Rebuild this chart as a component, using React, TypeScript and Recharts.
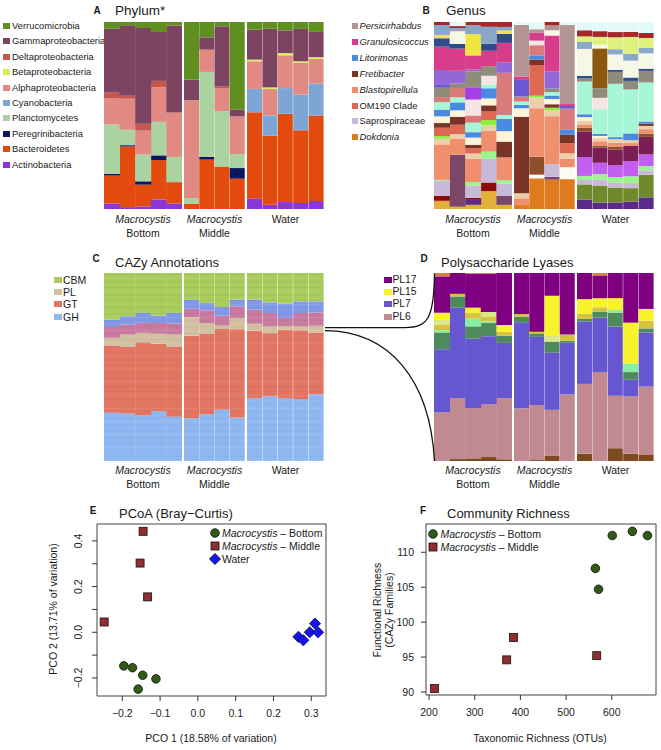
import { BarChart, Bar, XAxis, YAxis, ScatterChart, Scatter, ReferenceArea } from "recharts";

const FONT = '"Liberation Sans", Arial, Helvetica, sans-serif';

// ---------- samples / groups ----------
const samples = ["B1", "B2", "B3", "B4", "B5", "M1", "M2", "M3", "M4", "W1", "W2", "W3", "W4", "W5"];
const groupNames = ["Macrocystis", "Macrocystis", "Water"];
const groupSubs = ["Bottom", "Middle", ""];
const groupRanges = [[0, 5], [5, 9], [9, 14]];

// ---------- A: phylum (% per sample) ----------
const phylumNames = ["Verrucomicrobia", "Gammaproteobacteria", "Deltaproteobacteria", "Betaproteobacteria", "Alphaproteobacteria", "Cyanobacteria", "Planctomycetes", "Peregrinibacteria", "Bacteroidetes", "Actinobacteria"];
const phylumColors = ["#5f8f1f", "#7c4461", "#c6574f", "#d6ef5a", "#e18a84", "#7ea6d4", "#abd3a2", "#0b1662", "#e24b0d", "#8a36d8"];
const verrucomicrobia = [3.6, 1.8, 3.2, 5.3, 1.8, 30.8, 8.2, 2.3, 46.9, 4.1, 3.6, 4.5, 3.7, 5.3];
const gammaproteobacteria = [34, 37.6, 51.2, 26, 46.3, 11, 6.6, 32.4, 3.6, 16, 31.4, 12.1, 17.3, 13.5];
const deltaproteobacteria = [3.4, 1.6, 3.7, 3.4, 0, 0, 0, 1, 0, 0, 0, 0, 0, 0];
const betaproteobacteria = [0, 0, 0, 0, 0, 0, 0, 0, 0, 0.9, 0.9, 1.2, 0.9, 0.9];
const alphaproteobacteria = [13.9, 16.6, 12.8, 18.4, 23.7, 52.2, 11.9, 12.1, 20.1, 14.8, 14.1, 17.5, 16.9, 13.2];
const cyanobacteria = [0, 0, 0, 0, 0, 0, 0, 0, 0, 12.5, 10.9, 13.7, 19.1, 17.1];
const planctomycetes = [26.4, 8.2, 14.3, 17.8, 13.4, 3, 45.5, 29.8, 7.5, 0, 0, 0, 0, 0];
const peregrinibacteria = [1, 0.7, 1.8, 2.5, 0, 0, 1.4, 0, 5.7, 0, 0, 0, 0, 0];
const bacteroidetes = [15, 32.4, 11.6, 21, 11.4, 2.9, 26.4, 22.8, 16.2, 46.2, 36.9, 47.2, 38.9, 45.6];
const actinobacteria = [2.9, 1, 1.4, 5, 2.9, 0, 0, 0, 0, 5.5, 2.3, 3.7, 3.2, 4.3];
const phylumSeries = [verrucomicrobia, gammaproteobacteria, deltaproteobacteria, betaproteobacteria, alphaproteobacteria, cyanobacteria, planctomycetes, peregrinibacteria, bacteroidetes, actinobacteria];

// ---------- B: genus (% per sample), stack order bottom -> top ----------
const genusNames = ["gold", "purpleDeep", "olive", "Dokdonia", "snow", "darkRed", "mauveDark", "Saprospiraceae", "lightGreen", "orchid", "burgundy", "brownMid", "Blastopirellula", "tan", "brightGreen", "OM190 Clade", "Fretibacter", "cream", "Litorimonas", "mint", "rose", "mistyRose", "brightViolet", "grey", "oliveBrown", "violetBlue", "violet", "Granulosicoccus", "navy", "yellow", "ivory", "blueGrey", "Persicirhabdus", "lime", "redTop", "paleCyan"];
const genusColors = ["#e1b13c", "#5c2a88", "#6f8a2c", "#de7b1e", "#fbfbf0", "#8e0b0b", "#7b4767", "#c8b9d9", "#9af58c", "#c35ff0", "#7a1e55", "#8e4f2b", "#ef8f6e", "#ead0aa", "#8af23a", "#dc6a52", "#7a3327", "#fdf3d9", "#4b8ae2", "#a8f6d8", "#d97b7b", "#f6e4e4", "#a43ee6", "#8e8c7a", "#8b5a10", "#6a58d2", "#9467d6", "#d73d8b", "#2e4b8c", "#f1e542", "#f7f7e6", "#88a7c9", "#b39593", "#dcf27c", "#a6262b", "#e4fafa"];
const gGold = [3.9, 1.2, 2.1, 9.3, 2.1, 0, 0, 0, 0, 0, 0, 0, 0, 0];
const gPurpleDeep = [0, 0, 2.5, 0, 0, 0, 0, 0, 0, 4.8, 3, 3.4, 3.9, 5.3];
const gOlive = [0, 0, 0, 0, 0, 0, 0, 0, 0, 8, 8, 7.7, 7.1, 10.3];
const gDokdonia = [0.5, 0, 0, 0, 0, 2.1, 15.2, 15.2, 15.5, 0, 0, 0, 0, 0];
const gSnow = [0, 0, 0, 0, 0, 0, 1.8, 0, 6.2, 0, 0, 0, 0, 0];
const gDarkRed = [2.7, 0, 1, 4.5, 0, 0, 0, 0, 0, 0, 0, 0, 0, 0];
const gMauveDark = [0, 29.4, 0, 0, 4.5, 0, 0, 1.5, 0, 0, 0, 0, 0, 0];
const gSaprospiraceae = [8, 0, 6.2, 12.5, 6.2, 0, 0, 6.5, 0, 2.3, 2.7, 2.7, 2.7, 2];
const gLightGreen = [0.5, 0, 1.8, 3.6, 1.8, 0, 0, 0, 0, 2.1, 2.7, 2.7, 3.6, 2];
const gOrchid = [0, 0, 0, 0, 0, 0, 0, 0, 0, 9.8, 5.3, 6.2, 8, 5.3];
const gBurgundy = [0, 0, 0, 0, 0, 0, 0, 0, 0, 13.4, 7.1, 8, 8, 8];
const gBrownMid = [0, 0, 0, 0, 0, 0, 8.9, 0, 0, 1.8, 1, 1.5, 0, 1.5];
const gBlastopirellula = [19, 8.9, 11.6, 10.7, 11.6, 3.6, 24, 25, 4.5, 1.8, 2, 2, 1.5, 2];
const gTan = [3, 2.7, 2.7, 3, 0, 2.7, 5.3, 3, 2.7, 2, 1.5, 2, 1.5, 1.5];
const gBrightGreen = [1.4, 0, 0, 2.7, 0, 0, 0.9, 1.4, 0, 0, 0, 0, 0, 0];
const gOM190 = [4.5, 5.3, 2.6, 4.5, 0, 0, 15.2, 0, 5.3, 0, 0, 0, 0, 0];
const gFretibacter = [2.5, 4.5, 1.8, 3.2, 8, 41, 2.7, 1.8, 4.5, 0, 0, 0, 0, 1];
const gCream = [3.6, 3.6, 3.6, 3.6, 5.3, 4.5, 0, 2.7, 0, 1.8, 1, 0, 0, 0];
const gLitorimonas = [3.6, 4.5, 2.7, 5.3, 6.2, 1.8, 2.1, 1.8, 2.7, 1.5, 1, 1, 3.6, 1];
const gMint = [4, 2.8, 4.8, 2, 2, 1.8, 0, 1.8, 0, 17, 11.6, 27.6, 23.2, 17.8];
const gRose = [2.7, 5.3, 3.6, 0, 21.4, 2.7, 5, 0, 10.7, 0, 0, 0, 0, 0];
const gMistyRose = [0, 0, 8, 4.5, 0, 0, 2.3, 0, 0, 0, 5.3, 0, 0, 0];
const gBrightViolet = [0, 0, 6.2, 0, 0, 0, 0, 0, 0, 0, 0, 0, 0, 0];
const gGrey = [5, 2.5, 8, 5, 0, 0, 0, 1.8, 0, 1.8, 4.5, 6.2, 4.5, 5.3];
const gOliveBrown = [0, 0, 0, 0, 0, 0, 0, 0, 0, 0, 18.7, 0, 0, 0];
const gVioletBlue = [1.5, 0, 0, 0, 0, 8.9, 0, 0, 1.4, 0, 0, 0, 0, 0];
const gViolet = [8, 7.2, 0.9, 0, 5.4, 0, 0, 8.9, 0, 0, 0, 0, 0, 0];
const gGranulosicoccus = [12.5, 12.5, 7.1, 8, 9.8, 1.8, 4, 18.7, 1, 0, 0, 0, 0, 0];
const gNavy = [4.5, 2.7, 0, 3.6, 4.5, 0, 0, 0, 0, 1.2, 0, 1, 1.8, 1];
const gYellow = [1.8, 0, 10.7, 0, 1.8, 0, 0, 0, 0, 0, 0, 0, 0, 0];
const gIvory = [0, 7.1, 0, 0, 0, 0, 0, 2.7, 0, 14, 1.8, 8, 8.9, 7];
const gBlueGrey = [5.3, 1.8, 4.5, 8.9, 1.8, 0, 0, 0, 0, 3.6, 0, 2.7, 3.6, 2.5];
const gPersicirhabdus = [0, 0, 0, 0, 0, 27.6, 1.6, 2.5, 41, 0, 0, 0, 0, 0];
const gLime = [0, 0, 0, 0, 0, 0, 0, 0, 0, 2.9, 3.6, 6.2, 8.9, 4.5];
const gRedTop = [1.6, 1.1, 1.6, 2.5, 2.5, 0, 0, 1.8, 0, 3.2, 2.7, 2.7, 2.7, 2.3];
const gPaleCyan = [0, 2.3, 0, 0, 0, 1.6, 3.6, 0, 1.6, 4.3, 4.3, 5.2, 5.2, 5];
const genusSeries = [gGold, gPurpleDeep, gOlive, gDokdonia, gSnow, gDarkRed, gMauveDark, gSaprospiraceae, gLightGreen, gOrchid, gBurgundy, gBrownMid, gBlastopirellula, gTan, gBrightGreen, gOM190, gFretibacter, gCream, gLitorimonas, gMint, gRose, gMistyRose, gBrightViolet, gGrey, gOliveBrown, gVioletBlue, gViolet, gGranulosicoccus, gNavy, gYellow, gIvory, gBlueGrey, gPersicirhabdus, gLime, gRedTop, gPaleCyan];
const genusLegend = ["Persicirhabdus", "Granulosicoccus", "Litorimonas", "Fretibacter", "Blastopirellula", "OM190 Clade", "Saprospiraceae", "Dokdonia"];
const genusLegendItalic = [true, true, true, true, true, false, false, true];

// ---------- C: CAZy classes, stack order bottom -> top ----------
const cazyNames = ["GH", "GT", "PL", "CE", "AA", "CBM"];
const cazyColors = ["#8fb8f2", "#e27662", "#d2c0a0", "#c97aa0", "#8199e8", "#a9cc5c"];
const cazyGH = [25.7, 25.3, 24.2, 26.5, 23.5, 22.7, 24.9, 27.2, 23.1, 33.4, 34.3, 33.4, 32.9, 35.5];
const cazyGT = [35.8, 35.4, 38.9, 35.9, 37.2, 43.9, 42.8, 43, 47.1, 35.9, 33.7, 36.4, 36.6, 32.9];
const cazyPL = [4.1, 6.5, 5, 5.3, 6.5, 9.9, 5.7, 1.8, 5.9, 3.7, 3.6, 1.8, 2.1, 3.6];
const cazyCE = [5.8, 5.3, 5.3, 5.7, 5.8, 4.4, 6.7, 5.3, 6.2, 7.5, 7.1, 4.4, 7.1, 7.1];
const cazyAA = [3.9, 4.4, 5.3, 3.9, 5.7, 4.8, 3.9, 4.6, 3.6, 5.3, 5.7, 7.6, 6.2, 5.9];
const cazyCBM = [24.8, 23, 21.2, 22.7, 21.2, 14.2, 16, 18.1, 14.2, 14.2, 15.6, 16.3, 15.1, 15.1];
const cazySeries = [cazyGH, cazyGT, cazyPL, cazyCE, cazyAA, cazyCBM];
const cazyLegend = ["CBM", "PL", "GT", "GH"];

// ---------- D: polysaccharide lyases, stack order bottom -> top ----------
const lyaseNames = ["PLbrown", "PL6", "PL7", "PLdkgreen", "PLltgreen", "PLolive", "PLltyellow", "PL15", "PL17", "PLorange"];
const lyaseColors = ["#7c4a1e", "#c08a90", "#6656d0", "#4e8a5c", "#86f0a0", "#d6c23e", "#d8e888", "#f8f22a", "#7e0080", "#d48040"];
const plBrown = [0.3, 1, 1.4, 2.1, 0.9, 0, 0.5, 2.7, 0, 3.9, 0, 6.8, 3.9, 3.2];
const pl6 = [25.5, 32.5, 26.9, 28.2, 32.7, 28, 29.3, 24.5, 35.4, 36.8, 47.3, 28, 30.4, 36.4];
const pl7 = [33.6, 48.2, 37, 36.3, 29.3, 45.7, 36.3, 30.4, 27.5, 32.9, 28.9, 36.8, 8.9, 28.8];
const plDkGreen = [8.9, 5.9, 6.6, 7, 3.8, 3, 1.8, 5.9, 1, 1.4, 3.2, 7.5, 4.1, 2.1];
const plLtGreen = [1.2, 0, 4.1, 0.9, 0, 0, 0, 0, 0, 0, 0, 1.4, 4.5, 0];
const plOlive = [3, 1.4, 3, 2.3, 2.1, 1.4, 0.9, 0, 3.4, 2.7, 2.3, 0, 0, 4.1];
const plLtYellow = [2.7, 0, 0, 2.7, 0, 0, 0, 3, 0, 0, 0, 0, 0, 0];
const pl15 = [3.6, 0, 2.9, 0, 3.6, 0, 0, 21.4, 0, 7.7, 4.8, 6.3, 21.8, 6.3];
const pl17 = [19.3, 11.1, 18.2, 20.5, 27.7, 21.8, 31.3, 12.1, 32.7, 13.8, 12.1, 13.4, 26.4, 19.1];
const plOrange = [1.8, 0, 0.3, 0.3, 0, 0, 0, 0, 0, 0, 1.3, 0, 0, 0];
const lyaseSeries = [plBrown, pl6, pl7, plDkGreen, plLtGreen, plOlive, plLtYellow, pl15, pl17, plOrange];
const lyaseLegend = ["PL17", "PL15", "PL7", "PL6"];

// ---------- E: PCoA ----------
const pcoBottomX = [-0.196, -0.173, -0.146, -0.111, -0.158];
const pcoBottomY = [-0.147, -0.155, -0.188, -0.204, -0.249];
const pcoMiddleX = [-0.145, -0.153, -0.133, -0.248];
const pcoMiddleY = [0.442, 0.303, 0.155, 0.045];
const pcoWaterX = [0.266, 0.279, 0.296, 0.31, 0.318];
const pcoWaterY = [-0.02, -0.035, 0.0, 0.038, 0.0];
const pcoXTicks = [-0.2, -0.1, 0, 0.1, 0.2, 0.3];
const pcoYTicks = [-0.2, -0.1, 0, 0.1, 0.2, 0.3, 0.4];

// ---------- F: richness ----------
const richBottomX = [601, 645, 678, 564, 571];
const richBottomY = [112.4, 113.0, 112.4, 107.7, 104.7];
const richMiddleX = [212, 370, 385, 567];
const richMiddleY = [90.5, 94.6, 97.8, 95.2];
const richXTicks = [200, 300, 400, 500, 600];
const richYTicks = [90, 95, 100, 105, 110];

// ---------- layout ----------
const GROUP_X = [104, 184, 247];
const GROUP_W = [78, 61, 77];

const pts = (xs: number[], ys: number[]) => xs.map((x, i) => ({ x, y: ys[i] }));

function Txt({ x, y, children, size = 10.5, anchor = "start", italic = false, bold = false, rotate = false }: any) {
  const tx = anchor === "middle" ? "-50%" : anchor === "end" ? "-100%" : "0";
  return (
    <div
      style={{
        position: "absolute",
        left: x,
        top: y,
        transform: rotate ? "translate(-50%,-50%) rotate(-90deg)" : `translate(${tx},-50%)`,
        fontSize: size,
        fontStyle: italic ? "italic" : "normal",
        fontWeight: bold ? "bold" : "normal",
        whiteSpace: "nowrap",
        lineHeight: 1,
        color: "#1a1a1a",
      }}
    >
      {children}
    </div>
  );
}

function Textures({ colors }: { colors: string[] }) {
  return (
    <defs>
      {colors.map((c) => (
        <pattern key={c} id={"tex" + c.slice(1)} patternUnits="userSpaceOnUse" width={8} height={13}>
          <rect width={8} height={13} fill={c} />
          <rect y={1} width={8} height={0.7} fill="rgba(0,0,0,0.06)" />
          <rect y={5} width={8} height={0.6} fill="rgba(255,255,255,0.12)" />
          <rect y={8.5} width={8} height={0.7} fill="rgba(0,0,0,0.05)" />
        </pattern>
      ))}
    </defs>
  );
}

function StackPanel({ left, top, height, names, series, colors, textured = false }: any) {
  const rows = samples.map((s, i) => {
    const r: any = { sample: s };
    names.forEach((n: string, k: number) => (r[n] = series[k][i]));
    return r;
  });
  return (
    <>
      {groupRanges.map(([a, b], gi) => (
        <div key={gi} style={{ position: "absolute", left: left + GROUP_X[gi], top, width: GROUP_W[gi], height }}>
          <BarChart
            width={GROUP_W[gi]}
            height={height}
            data={rows.slice(a, b)}
            margin={{ top: 0, right: 0, bottom: 0, left: 0 }}
            stackOffset="expand"
            barCategoryGap={0}
          >
            {textured && <Textures colors={colors} />}
            <XAxis dataKey="sample" hide />
            <YAxis hide />
            {names.map((n: string, k: number) => (
              <Bar key={n} dataKey={n} stackId="s" fill={textured ? `url(#tex${colors[k].slice(1)})` : colors[k]} isAnimationActive={false} />
            ))}
          </BarChart>
        </div>
      ))}
    </>
  );
}

function GroupLabels({ left, y }: { left: number; y: number }) {
  return (
    <>
      {groupNames.map((g, i) => {
        const cx = left + GROUP_X[i] + GROUP_W[i] / 2;
        return (
          <div key={i}>
            <Txt x={cx} y={y} anchor="middle" italic={g !== "Water"}>{g}</Txt>
            {groupSubs[i] && <Txt x={cx} y={y + 14} anchor="middle">{groupSubs[i]}</Txt>}
          </div>
        );
      })}
    </>
  );
}

function LegendList({ items, colors, italics, x, tx, y0, dy, w, h, size }: any) {
  return (
    <>
      {items.map((it: string, i: number) => (
        <div key={it}>
          <div style={{ position: "absolute", left: x, top: y0 + i * dy - h / 2, width: w, height: h, background: colors[i] }} />
          <Txt x={tx} y={y0 + i * dy} size={size} italic={italics ? italics[i] : false}>{it}</Txt>
        </div>
      ))}
    </>
  );
}

const Circle = (p: any) => <circle cx={p.cx} cy={p.cy} r={4.3} fill="#2f5b17" stroke="#111" strokeWidth={0.8} />;
const Square = (p: any) => <rect x={p.cx - 4} y={p.cy - 4} width={8} height={8} fill="#922e2e" stroke="#111" strokeWidth={0.8} />;
const Diamond = (p: any) => (
  <polygon points={`${p.cx},${p.cy - 5.6} ${p.cx + 5.6},${p.cy} ${p.cx},${p.cy + 5.6} ${p.cx - 5.6},${p.cy}`} fill="#1515e6" stroke="#0a0a5a" strokeWidth={0.8} />
);

const fmtSigned = (v: number) => (v < 0 ? "\u2212" : "") + Math.abs(v).toFixed(1);

// rotated R-style y tick labels, only every other tick labelled
function RotTick({ y, payload }: any) {
  const v = payload.value;
  const even = Math.round(v * 10) % 2 === 0;
  if (!even) return null;
  const bx = 42;
  return (
    <text x={bx} y={y} transform={`rotate(-90 ${bx} ${y})`} textAnchor="middle" fontSize={10.5} fill="#222" fontFamily={FONT}>
      {fmtSigned(v)}
    </text>
  );
}

function MarkerSvg({ kind }: { kind: string }) {
  return (
    <svg width={12} height={12} style={{ position: "absolute", left: -6, top: -6 }}>
      {kind === "c" && <Circle cx={6} cy={6} />}
      {kind === "s" && <Square cx={6} cy={6} />}
      {kind === "d" && <Diamond cx={6} cy={6} />}
    </svg>
  );
}

function PlotLegend({ x, tx, y0, dy, kinds, labels }: any) {
  return (
    <>
      {labels.map((l: any, i: number) => (
        <div key={i}>
          <div style={{ position: "absolute", left: x, top: y0 + i * dy }}>
            <MarkerSvg kind={kinds[i]} />
          </div>
          <Txt x={tx} y={y0 + i * dy} size={10.5}>{l}</Txt>
        </div>
      ))}
    </>
  );
}

const axisTick = { fontSize: 10.5, fill: "#222", fontFamily: FONT };

export default function App() {
  const phylumStack = [...phylumNames].reverse();
  const phylumStackColors = [...phylumColors].reverse();
  const phylumStackSeries = [...phylumSeries].reverse();
  const genusLegendColors = genusLegend.map((g) => genusColors[genusNames.indexOf(g)]);
  const cazyLegendColors = cazyLegend.map((g) => cazyColors[cazyNames.indexOf(g)]);
  const lyaseLegendColors = lyaseLegend.map((g) => lyaseColors[lyaseNames.indexOf(g)]);

  const eDomX: [number, number] = [-0.267, 0.339];
  const eDomY: [number, number] = [-0.279, 0.474];
  const fDomX: [number, number] = [193.4, 696.7];
  const fDomY: [number, number] = [89.57, 114.05];

  return (
    <div style={{ position: "absolute", left: 0, top: 0, width: 661, height: 750, background: "#fff", fontFamily: FONT, overflow: "hidden" }}>
      {/* A */}
      <Txt x={97} y={11} size={10} bold anchor="middle">A</Txt>
      <Txt x={115} y={11} size={13.5}>Phylum*</Txt>
      <LegendList items={phylumNames} colors={phylumColors} x={3} tx={12} y0={26} dy={15.4} w={7} h={6} size={9.4} />
      <StackPanel left={0} top={22} height={187} names={phylumStack} series={phylumStackSeries} colors={phylumStackColors} />
      <GroupLabels left={0} y={219} />

      {/* B */}
      <Txt x={426} y={11} size={10} bold anchor="middle">B</Txt>
      <Txt x={446} y={11} size={13.5}>Genus</Txt>
      <LegendList items={genusLegend} colors={genusLegendColors} italics={genusLegendItalic} x={352} tx={359.5} y0={26} dy={15.9} w={6} h={6} size={9.4} />
      <StackPanel left={330} top={22} height={187} names={genusNames} series={genusSeries} colors={genusColors} />
      <GroupLabels left={330} y={219} />

      {/* C */}
      <Txt x={96} y={259} size={10} bold anchor="middle">C</Txt>
      <Txt x={115} y={262} size={13}>CAZy Annotations</Txt>
      <LegendList items={cazyLegend} colors={cazyLegendColors} x={53.5} tx={63} y0={279.5} dy={12.4} w={8} h={6} size={10.5} />
      <StackPanel left={0} top={273} height={188} names={cazyNames} series={cazySeries} colors={cazyColors} textured />
      <GroupLabels left={0} y={470} />

      {/* D */}
      <Txt x={424} y={259} size={10} bold anchor="middle">D</Txt>
      <Txt x={441} y={262} size={13}>Polysaccharide Lyases</Txt>
      <LegendList items={lyaseLegend} colors={lyaseLegendColors} x={383.5} tx={392.5} y0={279.5} dy={12.4} w={8} h={6} size={10.3} />
      <StackPanel left={330} top={273} height={188} names={lyaseNames} series={lyaseSeries} colors={lyaseColors} />
      <GroupLabels left={330} y={470} />

      {/* connectors C -> D */}
      <svg width={661} height={750} style={{ position: "absolute", left: 0, top: 0, pointerEvents: "none" }}>
        <path d="M 325 327.6 L 405 327.6 C 428 327.6, 434 318, 434.5 273.5" fill="none" stroke="#111" strokeWidth={1.3} />
        <path d="M 325 330.6 C 390 331, 430 380, 434.5 461" fill="none" stroke="#111" strokeWidth={1.3} />
      </svg>

      {/* E */}
      <Txt x={93} y={511} size={10} bold anchor="middle">E</Txt>
      <Txt x={119} y={513} size={13}>PCoA (Bray{"\u2212"}Curtis)</Txt>
      <div style={{ position: "absolute", left: 40, top: 514 }}>
        <ScatterChart width={296} height={212} margin={{ top: 10, right: 10, bottom: 0, left: 0 }}>
          <XAxis type="number" dataKey="x" domain={eDomX} ticks={pcoXTicks} tickFormatter={fmtSigned} allowDataOverflow axisLine={false} tickSize={5} tickMargin={9} height={30} tick={axisTick} tickLine={{ stroke: "#333" }} interval={0} />
          <YAxis type="number" dataKey="y" domain={eDomY} ticks={pcoYTicks} allowDataOverflow axisLine={false} tickSize={5} width={57} tick={<RotTick />} tickLine={{ stroke: "#333" }} interval={0} />
          <ReferenceArea x1={eDomX[0]} x2={eDomX[1]} y1={eDomY[0]} y2={eDomY[1]} fill="none" fillOpacity={0} stroke="#444" strokeWidth={1} />
          <Scatter data={pts(pcoBottomX, pcoBottomY)} shape={Circle} isAnimationActive={false} />
          <Scatter data={pts(pcoMiddleX, pcoMiddleY)} shape={Square} isAnimationActive={false} />
          <Scatter data={pts(pcoWaterX, pcoWaterY)} shape={Diamond} isAnimationActive={false} />
        </ScatterChart>
      </div>
      <PlotLegend
        x={215}
        tx={222}
        y0={533.3}
        dy={13}
        kinds={["c", "s", "d"]}
        labels={[
          <span><i>Macrocystis</i> – Bottom</span>,
          <span><i>Macrocystis</i> – Middle</span>,
          <span>Water</span>,
        ]}
      />
      <Txt x={53} y={609} rotate size={10.5}>PCO 2 (13.71% of variation)</Txt>
      <Txt x={211} y={738} anchor="middle" size={10.5}>PCO 1 (18.58% of variation)</Txt>

      {/* F */}
      <Txt x={423} y={511} size={10} bold anchor="middle">F</Txt>
      <Txt x={447} y={513} size={13}>Community Richness</Txt>
      <div style={{ position: "absolute", left: 376, top: 514 }}>
        <ScatterChart width={285} height={211} margin={{ top: 10, right: 5, bottom: 0, left: 0 }}>
          <XAxis type="number" dataKey="x" domain={fDomX} ticks={richXTicks} allowDataOverflow axisLine={false} tickSize={5} tickMargin={9} height={30} tick={axisTick} tickLine={{ stroke: "#333" }} interval={0} />
          <YAxis type="number" dataKey="y" domain={fDomY} ticks={richYTicks} allowDataOverflow axisLine={false} tickSize={5} tickMargin={7} width={50} tick={axisTick} tickLine={{ stroke: "#333" }} interval={0} />
          <ReferenceArea x1={fDomX[0]} x2={fDomX[1]} y1={fDomY[0]} y2={fDomY[1]} fill="none" fillOpacity={0} stroke="#444" strokeWidth={1} />
          <Scatter data={pts(richBottomX, richBottomY)} shape={Circle} isAnimationActive={false} />
          <Scatter data={pts(richMiddleX, richMiddleY)} shape={Square} isAnimationActive={false} />
        </ScatterChart>
      </div>
      <PlotLegend
        x={433.3}
        tx={440.5}
        y0={534}
        dy={12.7}
        kinds={["c", "s"]}
        labels={[
          <span><i>Macrocystis</i> – Bottom</span>,
          <span><i>Macrocystis</i> – Middle</span>,
        ]}
      />
      <Txt x={377} y={610} rotate size={10.5}>Functional Richness</Txt>
      <Txt x={389} y={610} rotate size={10.5}>(CAZy Families)</Txt>
      <Txt x={540} y={738} anchor="middle" size={10.5}>Taxonomic Richness (OTUs)</Txt>
    </div>
  );
}
